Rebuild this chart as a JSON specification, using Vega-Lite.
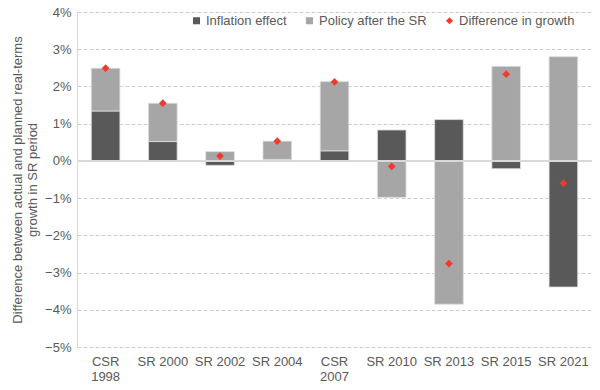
{
  "$schema": "https://vega.github.io/schema/vega-lite/v6.json",
  "width": 515,
  "height": 335,
  "autosize": "none",
  "padding": {"left": 77, "top": 12, "right": 8, "bottom": 43},
  "background": "white",
  "config": {
    "font": "Liberation Sans",
    "view": {"stroke": null},
    "axis": {"labelColor": "#595959", "titleColor": "#595959", "labelFontSize": 13, "titleFontSize": 13, "titleFontWeight": "normal"}
  },
  "data": {
    "values": [
      {"period": "CSR 1998", "series": "Inflation effect", "value": 0.0134},
      {"period": "CSR 1998", "series": "Policy after the SR", "value": 0.0115},
      {"period": "CSR 1998", "series": "Difference in growth", "value": 0.0249},
      {"period": "SR 2000", "series": "Inflation effect", "value": 0.0052},
      {"period": "SR 2000", "series": "Policy after the SR", "value": 0.0103},
      {"period": "SR 2000", "series": "Difference in growth", "value": 0.0155},
      {"period": "SR 2002", "series": "Inflation effect", "value": -0.0012},
      {"period": "SR 2002", "series": "Policy after the SR", "value": 0.0025},
      {"period": "SR 2002", "series": "Difference in growth", "value": 0.0013},
      {"period": "SR 2004", "series": "Inflation effect", "value": 0.0004},
      {"period": "SR 2004", "series": "Policy after the SR", "value": 0.0049},
      {"period": "SR 2004", "series": "Difference in growth", "value": 0.0053},
      {"period": "CSR 2007", "series": "Inflation effect", "value": 0.0027},
      {"period": "CSR 2007", "series": "Policy after the SR", "value": 0.0186},
      {"period": "CSR 2007", "series": "Difference in growth", "value": 0.0212},
      {"period": "SR 2010", "series": "Inflation effect", "value": 0.0083},
      {"period": "SR 2010", "series": "Policy after the SR", "value": -0.0098},
      {"period": "SR 2010", "series": "Difference in growth", "value": -0.0015},
      {"period": "SR 2013", "series": "Inflation effect", "value": 0.0111},
      {"period": "SR 2013", "series": "Policy after the SR", "value": -0.0385},
      {"period": "SR 2013", "series": "Difference in growth", "value": -0.0276},
      {"period": "SR 2015", "series": "Inflation effect", "value": -0.0021},
      {"period": "SR 2015", "series": "Policy after the SR", "value": 0.0254},
      {"period": "SR 2015", "series": "Difference in growth", "value": 0.0233},
      {"period": "SR 2021", "series": "Inflation effect", "value": -0.0339},
      {"period": "SR 2021", "series": "Policy after the SR", "value": 0.0280},
      {"period": "SR 2021", "series": "Difference in growth", "value": -0.0060}
    ]
  },
  "layer": [
    {
      "mark": {"type": "bar", "stroke": "#dedede", "strokeWidth": 0.8},
      "transform": [{"filter": "datum.series != 'Difference in growth'"}],
      "encoding": {
        "x": {
          "field": "period", "type": "nominal", "sort": null,
          "scale": {"paddingInner": 0.5, "paddingOuter": 0.25},
          "axis": {
            "title": null, "domain": false, "ticks": false, "labelAngle": 0, "labelPadding": 8,
            "labelExpr": "indexof(datum.label, 'CSR') == 0 ? split(datum.label, ' ') : datum.label",
            "labelLineHeight": 15, "labelOverlap": false, "grid": false
          }
        },
        "y": {
          "field": "value", "type": "quantitative", "stack": "zero",
          "scale": {"domain": [-0.05, 0.04], "nice": false, "zero": false},
          "axis": {
            "format": ".0%", "values": [-0.05, -0.04, -0.03, -0.02, -0.01, 0, 0.01, 0.02, 0.03, 0.04],
            "tickCount": 20,
            "labelOverlap": false, "grid": true, "gridColor": "#cfcfcf", "gridDash": [4, 2], "gridWidth": 1,
            "ticks": false, "domainColor": "#d9d9d9", "labelPadding": 6,
            "title": ["Difference between actual and planned real-terms", "growth in SR period"],
            "titlePadding": 5
          }
        },
        "color": {
          "field": "series", "type": "nominal",
          "scale": {"domain": ["Inflation effect", "Policy after the SR", "Difference in growth"], "range": ["#595959", "#a6a6a6", "#f03a2e"]},
          "legend": {
            "title": null, "orient": "none", "direction": "horizontal", "legendX": 113, "legendY": 2,
            "labelFontSize": 13, "labelColor": "#595959", "symbolSize": 50, "labelOffset": 3, "columnPadding": 16,
            "symbolStrokeWidth": 0
          }
        },
        "order": {"field": "series", "sort": "ascending"}
      }
    },
    {
      "mark": {"type": "rule", "color": "#d9d9d9", "strokeWidth": 1},
      "encoding": {
        "y": {"datum": 0, "type": "quantitative"}
      }
    },
    {
      "mark": {"type": "point", "filled": true, "size": 60, "opacity": 1},
      "transform": [{"filter": "datum.series == 'Difference in growth'"}],
      "encoding": {
        "x": {"field": "period", "type": "nominal", "sort": null},
        "y": {"field": "value", "type": "quantitative"},
        "color": {"field": "series", "type": "nominal"},
        "shape": {
          "field": "series", "type": "nominal",
          "scale": {"domain": ["Inflation effect", "Policy after the SR", "Difference in growth"], "range": ["square", "square", "diamond"]},
          "legend": {
            "title": null, "orient": "none", "direction": "horizontal", "legendX": 113, "legendY": 2,
            "labelFontSize": 13, "labelColor": "#595959", "symbolSize": 50, "labelOffset": 3, "columnPadding": 16,
            "symbolStrokeWidth": 0
          }
        }
      }
    }
  ]
}
